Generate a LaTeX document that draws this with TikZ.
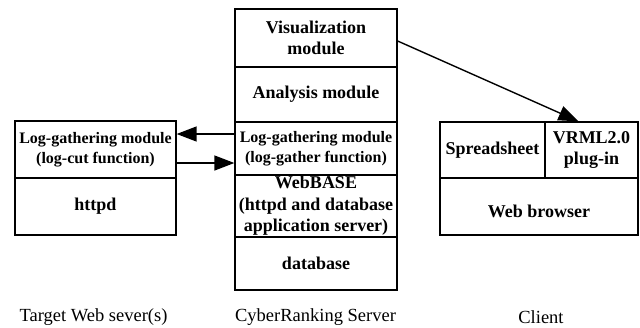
\documentclass[tikz,border=0pt]{standalone}
\usepackage{fontspec}
\setmainfont{Liberation Serif}
\usetikzlibrary{arrows.meta}
\tikzset{
  cell/.style={draw, line width=1.3pt, inner sep=0pt, align=center,
    font=\fontsize{18}{21.5}\selectfont\bfseries},
  smallcell/.style={cell, font=\fontsize{16}{20}\selectfont\bfseries},
  caption/.style={inner sep=0pt, font=\fontsize{18.5}{22}\selectfont},
  arr/.style={line width=1.4pt, -{Triangle[length=20pt,width=15pt]}}
}
\begin{document}
\begin{tikzpicture}[x=1pt,y=-1pt]
\useasboundingbox (0,0) rectangle (640,327);
% Target web server
\node[smallcell, minimum width=161pt, minimum height=57pt] (lc) at (95.5,149.5) {Log-gathering module\\(log-cut function)};
\node[cell, minimum width=161pt, minimum height=57pt] (httpd) at (95.5,206.5) {httpd};
% CyberRanking server
\node[cell, minimum width=162pt, minimum height=58pt] (vis) at (316,38) {Visualization\\module};
\node[cell, minimum width=162pt, minimum height=55pt] (ana) at (316,94.5) {Analysis module};
\node[smallcell, minimum width=162pt, minimum height=53pt] (lg) at (316,148.5) {Log-gathering module\\(log-gather function)};
\node[cell, minimum width=162pt, minimum height=62pt] (web) at (316,206) {WebBASE\\(httpd and database\\application server)};
\node[cell, minimum width=162pt, minimum height=53pt] (db) at (316,263.5) {database};
% Client
\node[cell, minimum width=105pt, minimum height=56pt] (ss) at (492.5,150) {Spreadsheet};
\node[cell, minimum width=93pt, minimum height=56pt] (vrml) at (591.5,150) {VRML2.0\\plug-in};
\node[cell, minimum width=198pt, minimum height=57pt, text height=21pt, text depth=0pt] (wb) at (539,206.5) {Web browser};
% captions
\node[caption] (tcap) at (93.5,317) {Target Web sever(s)};
\node[caption] (ccap) at (315.5,317) {CyberRanking Server};
\node[caption] (clcap) at (541,317) {Client};
% connector end points
\coordinate (a1) at ([yshift=14.5pt]lg.west);
\coordinate (b2) at ([yshift=-13.5pt]lc.east);
% connectors
\draw[arr] (a1) -- (a1 -| lc.east);
\draw[arr] (b2) -- (b2 -| lg.west);
\draw[arr] ([yshift=-3pt]vis.east) -- ([xshift=-13pt]vrml.north);
\end{tikzpicture}
\end{document}
